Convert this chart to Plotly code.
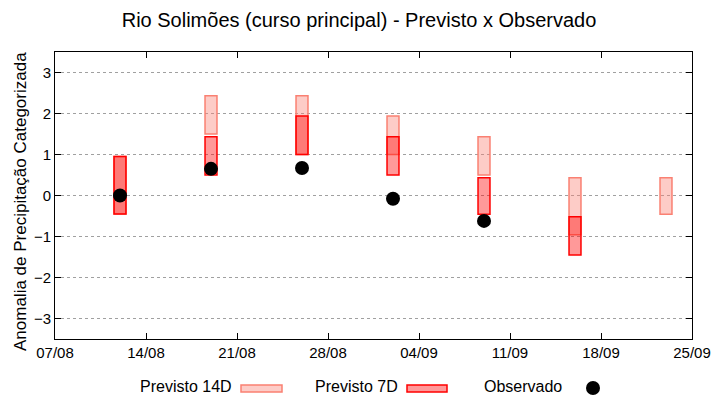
import plotly.graph_objects as go

dates = ["2020-08-12", "2020-08-19", "2020-08-26", "2020-09-02", "2020-09-09", "2020-09-16", "2020-09-23"]
p14_low = [-0.45, 1.50, 1.00, 1.00, 0.50, -0.96, -0.46]
p14_high = [0.95, 2.43, 2.43, 1.94, 1.43, 0.43, 0.43]
p7_dates = ["2020-08-12", "2020-08-19", "2020-08-26", "2020-09-02", "2020-09-09", "2020-09-16"]
p7_low = [-0.45, 0.50, 1.00, 0.50, -0.46, -1.45]
p7_high = [0.95, 1.43, 1.94, 1.43, 0.43, -0.52]
obs_dates = ["2020-08-12", "2020-08-19", "2020-08-26", "2020-09-02", "2020-09-09"]
obs = [0.00, 0.65, 0.67, -0.08, -0.62]
ytick_vals = [-3, -2, -1, 0, 1, 2, 3]

DAY_MS = 86400000
bar_w = 0.92 * DAY_MS

fig = go.Figure()
fig.add_trace(go.Bar(
    x=dates, base=p14_low, y=[h - l for h, l in zip(p14_high, p14_low)],
    width=[bar_w] * len(dates),
    marker=dict(color="rgba(250,128,114,0.4)", line=dict(color="rgb(250,128,114)", width=1.5)),
    name="Previsto 14D", showlegend=False))
fig.add_trace(go.Bar(
    x=p7_dates, base=p7_low, y=[h - l for h, l in zip(p7_high, p7_low)],
    width=[bar_w] * len(p7_dates),
    marker=dict(color="rgba(255,0,0,0.4)", line=dict(color="rgb(255,0,0)", width=1.5)),
    name="Previsto 7D", showlegend=False))
fig.add_trace(go.Scatter(
    x=obs_dates, y=obs, mode="markers",
    marker=dict(color="black", size=14),
    name="Observado", showlegend=False))

font = "Liberation Sans, Arial, sans-serif"
# page body has an 8px margin, so the figure is laid out 8px up-left
fig.update_layout(
    width=720, height=400,
    barmode="overlay",
    plot_bgcolor="white", paper_bgcolor="white",
    margin=dict(l=47, r=36, t=44, b=69, autoexpand=False),
    font=dict(family=font, size=15, color="black"),
    title=dict(text="Rio Solimões (curso principal) - Previsto x Observado",
               x=0.4875, xanchor="center", y=0.97, yanchor="middle",
               font=dict(size=20, family=font)),
    xaxis=dict(type="date", range=["2020-08-07", "2020-09-25"],
               tick0="2020-08-07", dtick=7 * DAY_MS, tickformat="%d/%m",
               ticks="inside", ticklen=6, tickcolor="black",
               showline=True, linecolor="black", linewidth=1, mirror="ticks",
               showgrid=False, zeroline=False, automargin=False,
               tickfont=dict(size=15)),
    yaxis=dict(range=[-3.5, 3.5], tickvals=ytick_vals,
               ticks="inside", ticklen=6, tickcolor="black",
               showline=True, linecolor="black", linewidth=1, mirror="ticks",
               showgrid=True, gridcolor="#a0a0a0", griddash="dot", gridwidth=1,
               zeroline=False, automargin=False, tickfont=dict(size=15)),
)

# positions below in reference pixels, converted to paper fractions
def px(xp):
    return (xp - 55) / 637.0

def py(yp):
    return (339 - yp) / 287.0

fig.add_annotation(text="Anomalia de Precipitação Categorizada", textangle=-90,
                   x=px(21), y=py(202), xref="paper", yref="paper",
                   xanchor="center", yanchor="middle", showarrow=False, font=dict(size=17))

ly = 386
fig.add_annotation(text="Previsto 14D", x=px(234), y=py(ly), xref="paper", yref="paper",
                   xanchor="right", yanchor="middle", showarrow=False, font=dict(size=16))
fig.add_shape(type="rect", xref="paper", yref="paper", x0=px(241), x1=px(282), y0=py(392), y1=py(385),
              fillcolor="rgba(250,128,114,0.4)", line=dict(color="rgb(250,128,114)", width=1.5))
fig.add_annotation(text="Previsto 7D", x=px(400), y=py(ly), xref="paper", yref="paper",
                   xanchor="right", yanchor="middle", showarrow=False, font=dict(size=16))
fig.add_shape(type="rect", xref="paper", yref="paper", x0=px(407), x1=px(447), y0=py(392), y1=py(385),
              fillcolor="rgba(255,0,0,0.4)", line=dict(color="rgb(255,0,0)", width=1.5))
fig.add_annotation(text="Observado", x=px(564), y=py(ly), xref="paper", yref="paper",
                   xanchor="right", yanchor="middle", showarrow=False, font=dict(size=16))
fig.add_shape(type="circle", xref="paper", yref="paper", x0=px(586), x1=px(600), y0=py(395), y1=py(381),
              fillcolor="black", line=dict(color="black", width=0))

fig.write_html("out.html")
